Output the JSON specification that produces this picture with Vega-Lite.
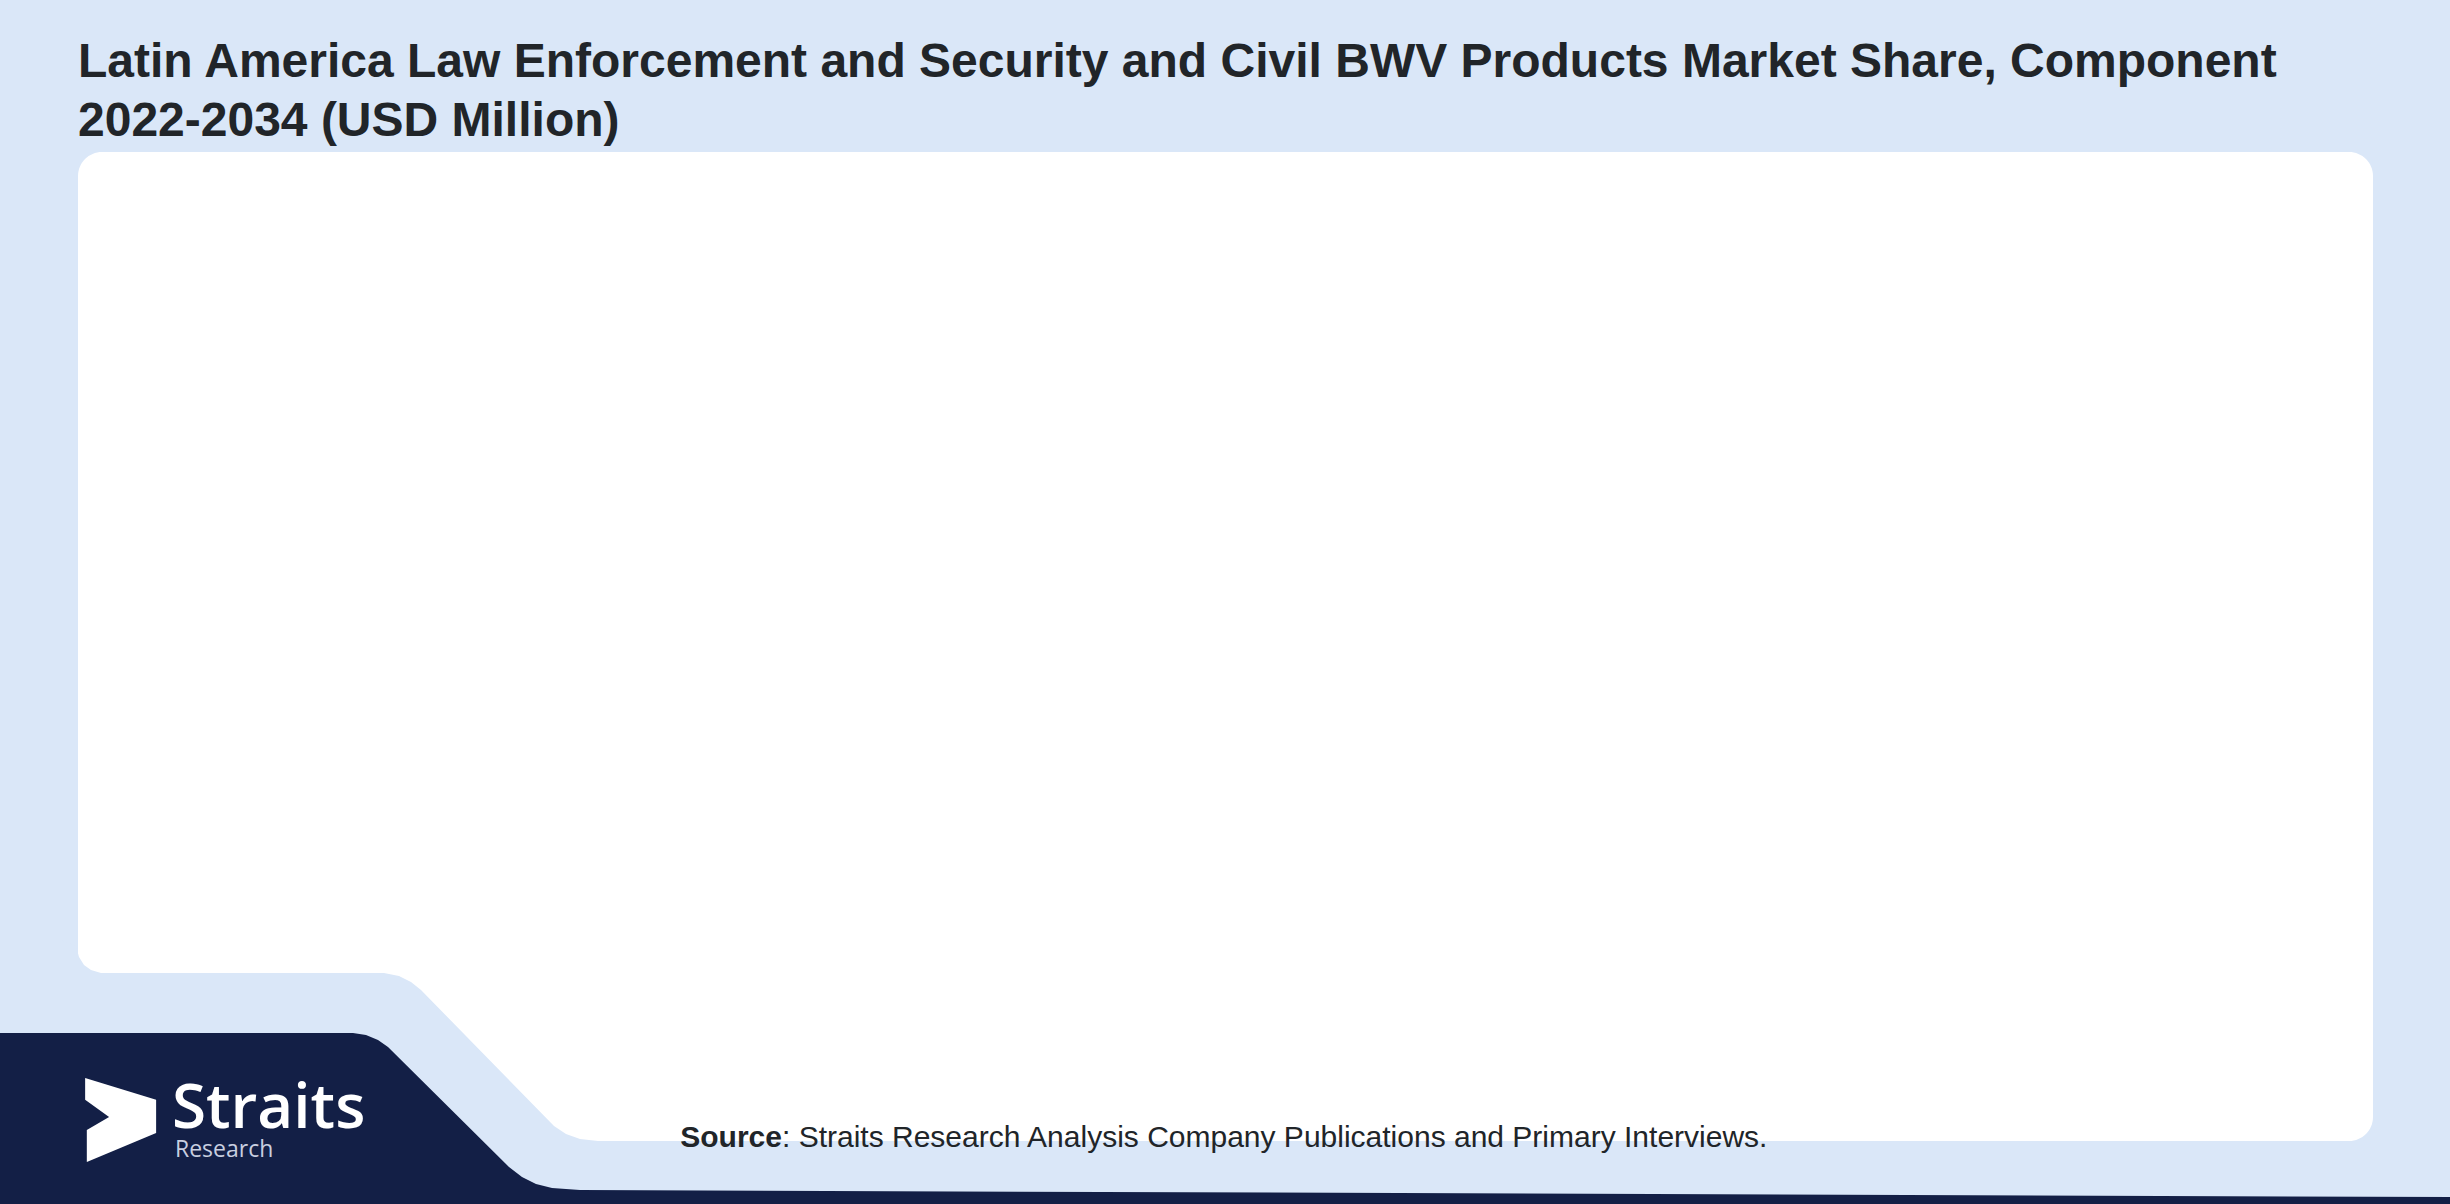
{
  "$schema": "https://vega.github.io/schema/vega-lite/v6.json",
  "width": 2295,
  "height": 989,
  "autosize": {"type": "none"},
  "padding": {"left": 78, "top": 152, "right": 77, "bottom": 63},
  "background": "#dae7f8",
  "title": {
    "text": ["Latin America Law Enforcement and Security and Civil BWV Products Market Share, Component", "2022-2034 (USD Million)"],
    "anchor": "start",
    "frame": "group",
    "font": "Liberation Sans",
    "fontSize": 48,
    "fontWeight": "bold",
    "color": "#212529",
    "lineHeight": 59,
    "offset": 6
  },
  "config": {
    "view": {"fill": "white", "stroke": null, "cornerRadius": 24},
    "axis": {"disable": true}
  },
  "datasets": {
    "cutout": [
      {"x": 60, "y": 940},
      {"x": 76, "y": 946},
      {"x": 79, "y": 957},
      {"x": 84, "y": 965},
      {"x": 91, "y": 970},
      {"x": 101, "y": 973},
      {"x": 384, "y": 973},
      {"x": 399, "y": 976},
      {"x": 411, "y": 982},
      {"x": 421, "y": 990},
      {"x": 554, "y": 1126},
      {"x": 566, "y": 1134},
      {"x": 580, "y": 1139},
      {"x": 598, "y": 1141},
      {"x": 620, "y": 1141}
    ],
    "navy": [
      {"x": 0, "y": 1033},
      {"x": 353, "y": 1033},
      {"x": 366, "y": 1035},
      {"x": 378, "y": 1040},
      {"x": 388, "y": 1047},
      {"x": 509, "y": 1167},
      {"x": 522, "y": 1177},
      {"x": 536, "y": 1184},
      {"x": 552, "y": 1188},
      {"x": 580, "y": 1190},
      {"x": 2450, "y": 1197}
    ],
    "logo": [{"x": 120, "y": 1120}],
    "labels": [
      {"key": "brand", "x": 172, "y": 1128, "text": "Straits"},
      {"key": "sub", "x": 175, "y": 1157, "text": "Research"},
      {"key": "srcbold", "x": 782, "y": 1147, "text": "Source"},
      {"key": "src", "x": 782, "y": 1147, "text": ": Straits Research Analysis Company Publications and Primary Interviews."}
    ]
  },
  "layer": [
    {
      "data": {"name": "cutout"},
      "mark": {"type": "area", "color": "#dae7f8", "clip": false},
      "encoding": {
        "x": {"field": "x", "type": "quantitative", "axis": null, "scale": {"domain": [78, 2373], "range": [0, 2295], "nice": false, "zero": false}},
        "y": {"field": "y", "type": "quantitative", "axis": null, "scale": {"domain": [152, 1141], "range": [0, 989], "nice": false, "zero": false}},
        "y2": {"datum": 1150}
      }
    },
    {
      "data": {"name": "navy"},
      "mark": {"type": "area", "color": "#131f46", "clip": false},
      "encoding": {
        "x": {"field": "x", "type": "quantitative", "axis": null},
        "y": {"field": "y", "type": "quantitative", "axis": null},
        "y2": {"datum": 1204}
      }
    },
    {
      "data": {"name": "logo"},
      "mark": {
        "type": "point",
        "filled": true,
        "color": "white",
        "opacity": 1,
        "strokeWidth": 0,
        "size": 7056,
        "shape": "M-0.83,-1 L0.86,-0.48 L0.86,0.31 L-0.79,1 L-0.79,0.24 L-0.26,-0.07 L-0.83,-0.48 Z"
      },
      "encoding": {
        "x": {"field": "x", "type": "quantitative", "axis": null},
        "y": {"field": "y", "type": "quantitative", "axis": null}
      }
    },
    {
      "data": {"name": "labels"},
      "transform": [{"filter": "datum.key === 'brand'"}],
      "mark": {"type": "text", "font": "Open Sans", "fontWeight": 600, "fontSize": 62, "color": "white", "align": "left", "baseline": "alphabetic"},
      "encoding": {
        "x": {"field": "x", "type": "quantitative", "axis": null},
        "y": {"field": "y", "type": "quantitative", "axis": null},
        "text": {"field": "text"}
      }
    },
    {
      "data": {"name": "labels"},
      "transform": [{"filter": "datum.key === 'sub'"}],
      "mark": {"type": "text", "font": "Open Sans", "fontSize": 23, "color": "#c9cfe0", "align": "left", "baseline": "alphabetic"},
      "encoding": {
        "x": {"field": "x", "type": "quantitative", "axis": null},
        "y": {"field": "y", "type": "quantitative", "axis": null},
        "text": {"field": "text"}
      }
    },
    {
      "data": {"name": "labels"},
      "transform": [{"filter": "datum.key === 'srcbold'"}],
      "mark": {"type": "text", "font": "Liberation Sans", "fontWeight": "bold", "fontSize": 30, "color": "#212529", "align": "right", "baseline": "alphabetic"},
      "encoding": {
        "x": {"field": "x", "type": "quantitative", "axis": null},
        "y": {"field": "y", "type": "quantitative", "axis": null},
        "text": {"field": "text"}
      }
    },
    {
      "data": {"name": "labels"},
      "transform": [{"filter": "datum.key === 'src'"}],
      "mark": {"type": "text", "font": "Liberation Sans", "fontSize": 30, "color": "#212529", "align": "left", "baseline": "alphabetic"},
      "encoding": {
        "x": {"field": "x", "type": "quantitative", "axis": null},
        "y": {"field": "y", "type": "quantitative", "axis": null},
        "text": {"field": "text"}
      }
    }
  ]
}
